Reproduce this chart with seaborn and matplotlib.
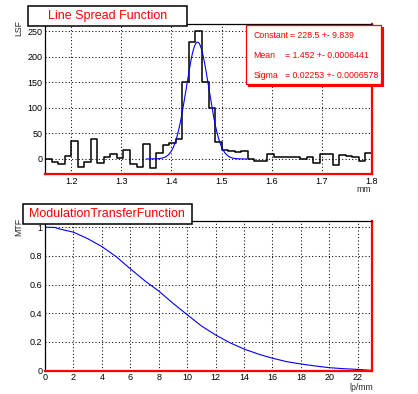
import numpy as np
import pandas as pd
import matplotlib
matplotlib.use("Agg")
import matplotlib.pyplot as plt
import seaborn as sns
from matplotlib.patches import Rectangle
from matplotlib.ticker import MultipleLocator, FixedLocator

# LSF histogram: 50 bins, edge at 1.2 and 1.5, ending at 1.8
lsf_first_edge = 1.8 - 50 * 0.3 / 23
lsf_bin_width = 0.3 / 23
lsf_counts = [0, -6, -9, 5, 36, -15, -5, 40, -8, 3,
              9, 1, 18, -9, -15, 30, -17, 11, 27, 32,
              40, 151, 229, 251, 150, 100, 33, 18, 16, 14,
              16, 0, -3, -3, 10, 3, 3, 4, 4, 0,
              3, -7, 10, 10, -11, 7, 5, 3, -4, 12]

# gaussian fit parameters from the stats box
fit_constant = 228.5
fit_mean = 1.452
fit_sigma = 0.02253
fit_range = (1.35, 1.55)

# MTF curve
mtf_freq = [0, 0.7, 1, 2, 3, 4, 5, 6, 7, 8, 9, 10, 11, 12,
            13, 14, 15, 16, 17, 18, 19, 20, 21, 22, 23]
mtf_values = [1.0, 0.998, 0.988, 0.965, 0.92, 0.865, 0.795, 0.71, 0.628, 0.555,
              0.47, 0.39, 0.312, 0.249, 0.195, 0.151, 0.116, 0.087, 0.063, 0.047,
              0.033, 0.021, 0.014, 0.009, 0.002]

sns.set_theme(style="white")
plt.rcParams["font.family"] = ["Liberation Sans", "DejaVu Sans"]

W, H = 418, 394
fig = plt.figure(figsize=(W / 100, H / 100), dpi=100)
fig.patch.set_facecolor("white")


def fx(px):
    return px / W


def fy(py):
    return 1 - py / H


def style_axes(ax):
    ax.set_facecolor("white")
    for s in ["left", "top"]:
        ax.spines[s].set_color("black")
        ax.spines[s].set_linewidth(0.9)
    for s in ["bottom", "right"]:
        ax.spines[s].set_color("red")
        ax.spines[s].set_linewidth(1.6)
    ax.tick_params(which="both", direction="in", top=False, right=False,
                   color="black", labelsize=6.5, labelcolor="black")
    ax.tick_params(which="major", length=5.5, width=0.8, pad=2)
    ax.tick_params(which="minor", length=3, width=0.8)
    ax.grid(True, which="major", color="black", linestyle=(0, (1, 2.2)), linewidth=0.75)
    ax.set_xlabel("")
    ax.set_ylabel("")


# ---- Line Spread Function ----
ax1 = fig.add_axes([fx(45), fy(174), fx(327), 150 / H])
edges = lsf_first_edge + lsf_bin_width * np.arange(len(lsf_counts) + 1)
# step outline: one point per left edge, last level repeated at the right edge
lsf_df = pd.DataFrame({"edge": edges, "LSF": lsf_counts + [lsf_counts[-1]]})
sns.lineplot(data=lsf_df, x="edge", y="LSF", drawstyle="steps-post",
             color="black", linewidth=1.1, ax=ax1)

xs = np.linspace(fit_range[0], fit_range[1], 300)
fit_df = pd.DataFrame({"pos": xs,
                       "fit": fit_constant * np.exp(-0.5 * ((xs - fit_mean) / fit_sigma) ** 2)})
sns.lineplot(data=fit_df, x="pos", y="fit", color="blue", linewidth=0.8, ax=ax1)

ax1.set_xlim(lsf_first_edge, 1.8)
ax1.set_ylim(-29.4, 264)
ax1.set_xticks([1.2, 1.3, 1.4, 1.5, 1.6, 1.7, 1.8])
ax1.set_xticklabels(["1.2", "1.3", "1.4", "1.5", "1.6", "1.7", "1.8"])
ax1.xaxis.set_minor_locator(FixedLocator([1.15, 1.25, 1.35, 1.45, 1.55, 1.65, 1.75]))
ax1.set_yticks([0, 50, 100, 150, 200, 250])
ax1.yaxis.set_minor_locator(MultipleLocator(10))
style_axes(ax1)

# ---- Modulation Transfer Function ----
ax2 = fig.add_axes([fx(45), fy(370.7), fx(327), 150 / H])
mtf_df = pd.DataFrame({"lp/mm": mtf_freq, "MTF": mtf_values})
sns.lineplot(data=mtf_df, x="lp/mm", y="MTF", color="blue", linewidth=0.8, ax=ax2)
ax2.set_xlim(0, 23)
ax2.set_ylim(0, 1.045)
ax2.set_xticks(list(range(0, 23, 2)))
ax2.xaxis.set_minor_locator(MultipleLocator(0.5))
ax2.set_yticks([0, 0.2, 0.4, 0.6, 0.8, 1.0])
ax2.set_yticklabels(["0", "0.2", "0.4", "0.6", "0.8", "1"])
ax2.yaxis.set_minor_locator(MultipleLocator(0.05))
style_axes(ax2)

# ---- title boxes ----
for (x0, y0, x1, y1, txt) in [(28, 6, 187, 26, "Line Spread Function"),
                              (23, 203.5, 191.5, 223.5, "ModulationTransferFunction")]:
    fig.add_artist(Rectangle((fx(x0), fy(y1)), fx(x1 - x0), (y1 - y0) / H,
                             transform=fig.transFigure, facecolor="white",
                             edgecolor="black", linewidth=1.1, zorder=10))
    fig.text(fx((x0 + x1) / 2), fy((y0 + y1) / 2), txt, color="red", fontsize=9,
             ha="center", va="center", zorder=11)

# ---- stats box ----
bx0, by0, bx1, by1 = 246, 25, 381, 84
fig.add_artist(Rectangle((fx(bx0 + 2), fy(by1 + 2)), fx(bx1 - bx0), (by1 - by0) / H,
                         transform=fig.transFigure, facecolor="red",
                         edgecolor="red", linewidth=0.8, zorder=10))
fig.add_artist(Rectangle((fx(bx0), fy(by1)), fx(bx1 - bx0), (by1 - by0) / H,
                         transform=fig.transFigure, facecolor="white",
                         edgecolor="red", linewidth=0.9, zorder=10))
stats = [("Constant", 290, "= 228.5 +- 9.839", 35.5),
         ("Mean", 285, "= 1.452 +- 0.0006441", 55.5),
         ("Sigma", 285, "= 0.02253 +- 0.0006578", 75.5)]
for name, xeq, val, ty in stats:
    fig.text(fx(253.5), fy(ty), name, color="red", fontsize=6.3, ha="left", va="center", zorder=11)
    fig.text(fx(xeq), fy(ty), val, color="red", fontsize=6.3, ha="left", va="center", zorder=11)

# ---- axis titles ----
fig.text(fx(18.5), fy(20), "LSF", rotation=90, fontsize=6.3, ha="center", va="top")
fig.text(fx(18.5), fy(218), "MTF", rotation=90, fontsize=6.3, ha="center", va="top")
fig.text(fx(371), fy(185), "mm", fontsize=6.3, ha="right", va="top")
fig.text(fx(373), fy(382.5), "lp/mm", fontsize=6.3, ha="right", va="top")

fig.savefig("out.png", dpi=100, facecolor="white")
